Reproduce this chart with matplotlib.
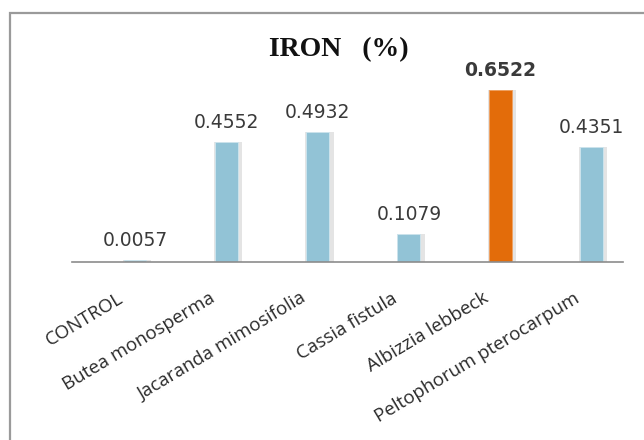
import matplotlib
matplotlib.use("Agg")
import matplotlib.pyplot as plt
from matplotlib.patches import Rectangle
from matplotlib.transforms import offset_copy

categories = ["CONTROL", "Butea monosperma", "Jacaranda mimosifolia",
              "Cassia fistula", "Albizzia lebbeck", "Peltophorum pterocarpum"]
values = [0.0057, 0.4552, 0.4932, 0.1079, 0.6522, 0.4351]
labels = ["0.0057", "0.4552", "0.4932", "0.1079", "0.6522", "0.4351"]
highlight = "Albizzia lebbeck"

W, H = 644, 440
fig = plt.figure(figsize=(W / 100, H / 100), dpi=100)
fig.patch.set_facecolor("white")

# chart frame (open to the right and bottom)
fig.patches.append(Rectangle((10 / W, -0.05), 1.2, (H - 13) / H + 0.05,
                             transform=fig.transFigure, fill=False,
                             edgecolor="#9a9a9a", linewidth=1.6))

ax = fig.add_axes([72 / W, (H - 262) / H, 551 / W, 202 / H])
ax.set_facecolor("none")

x = list(range(len(categories)))
colors = ["#E36C0A" if c == highlight else "#92C3D6" for c in categories]
edges = ["#f0a060" if c == highlight else "#cfe6ef" for c in categories]

# soft shadow behind each bar
ax.bar([i + 0.02 for i in x], values, width=0.31, color="#e4e4e4", zorder=1)
ax.bar(x, values, width=0.25, color=colors, edgecolor=edges,
       linewidth=0.6, zorder=2)

ax.set_xlim(-0.69, 5.345)
ax.set_ylim(0, 0.766)

for s in ["top", "right", "left"]:
    ax.spines[s].set_visible(False)
ax.spines["bottom"].set_color("#8c8c8c")
ax.spines["bottom"].set_linewidth(1.2)
ax.set_yticks([])
ax.set_xticks([])

# value labels
for i, (v, t, c) in enumerate(zip(values, labels, categories)):
    tr = offset_copy(ax.transData, fig=fig, x=0, y=14, units="dots")
    ax.text(i, v, t, transform=tr, ha="center", va="baseline",
            fontsize=13.5, color="#3a3a3a", family="DejaVu Sans",
            fontweight="bold" if c == highlight else "normal")

# rotated category labels
for i, c in enumerate(categories):
    tr = offset_copy(ax.get_xaxis_transform(), fig=fig, x=-13, y=-35,
                     units="dots")
    ax.text(i, 0, c, transform=tr, rotation=31, rotation_mode="anchor",
            ha="right", va="center", fontsize=13.5, color="#2a2a2a",
            family="Open Sans")

fig.text(339 / W, 1 - 56 / H, "IRON   (%)", ha="center", va="baseline",
         fontsize=20, fontweight="bold", family="Liberation Serif",
         color="#111111")

fig.savefig("out.png", dpi=100, facecolor="white")
